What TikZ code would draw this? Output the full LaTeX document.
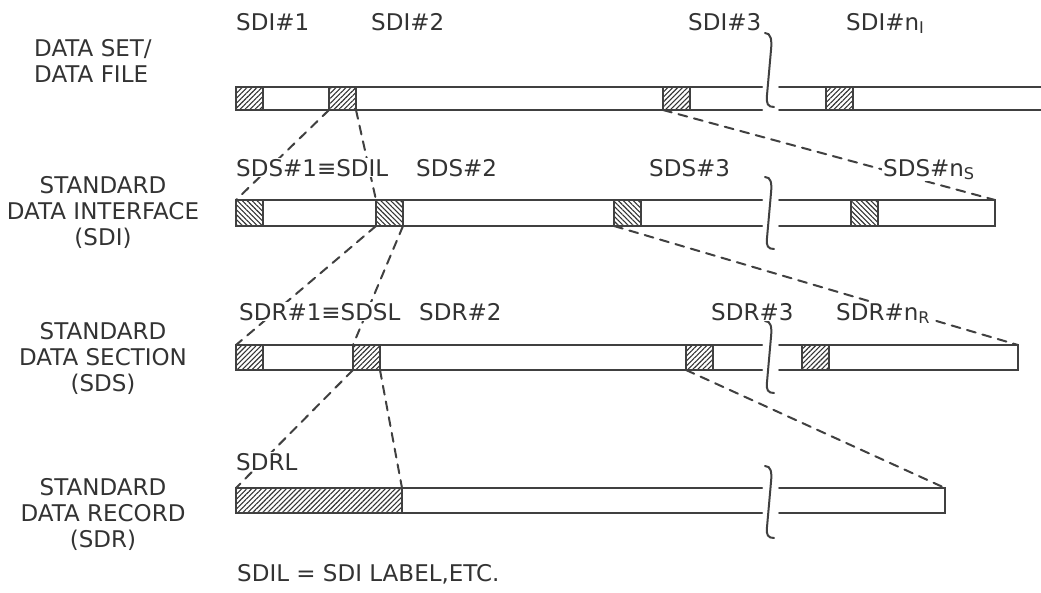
\documentclass[tikz,border=0pt]{standalone}
\usepackage{fontspec}
\setmainfont{DejaVu Sans}
\usetikzlibrary{patterns.meta}

\begin{document}
\begin{tikzpicture}[x=1pt, y=-1pt,
    bar/.style={draw=black!75, line width=2pt, line cap=round},
    hatch/.style={draw=black!75, line width=2pt, inner sep=0pt, outer sep=0pt,
        anchor=north west, minimum width=27pt, pattern color=black!80,
        pattern={Lines[angle=45, distance=3.5pt, line width=1.1pt]}},
    backhatch/.style={hatch, pattern={Lines[angle=-45, distance=3.5pt, line width=1.1pt]}},
    link/.style={draw=black!75, line width=2pt, line cap=round, dash pattern=on 9pt off 7pt},
    txt/.style={font=\fontsize{23}{26}\selectfont, text=black!80, inner sep=1pt},
    tag/.style={txt, fill=white, anchor=base west}]
    \useasboundingbox (0,0) rectangle (1041,592);

    % Draw bars
    \draw[bar] (762,87) -| (236,110) -- (762,110);
    \draw[bar] (1041,87) -- (779,87) (779,110) -- (1041,110);
    \draw[bar] (762,200) -| (236,226) -- (762,226);
    \draw[bar] (779,200) -| (995,226) -- (779,226);
    \draw[bar] (762,345) -| (236,370) -- (762,370);
    \draw[bar] (779,345) -| (1018,370) -- (779,370);
    \draw[bar] (762,488) -| (236,513) -- (762,513);
    \draw[bar] (779,488) -| (945,513) -- (779,513);

    % Breaks
    \draw[bar, shift={(768,70)}] (-3,-37) .. controls (3,-37) and (4,-30) .. (3,-20) -- (-1,25) .. controls (-2,34) and (0,37) .. (6,37);
    \draw[bar, shift={(768,213)}] (-3,-36) .. controls (3,-36) and (4,-30) .. (3,-20) -- (-1,25) .. controls (-2,33) and (0,36) .. (6,36);
    \draw[bar, shift={(768,357)}] (-3,-36) .. controls (3,-36) and (4,-30) .. (3,-20) -- (-1,25) .. controls (-2,33) and (0,36) .. (6,36);
    \draw[bar, shift={(768,502)}] (-3,-36) .. controls (3,-36) and (4,-30) .. (3,-20) -- (-1,25) .. controls (-2,33) and (0,36) .. (6,36);

    % Draw nodes
    \node[hatch, minimum height=23pt] (a1) at (236,87) {};
    \node[hatch, minimum height=23pt] (a2) at (329,87) {};
    \node[hatch, minimum height=23pt] (a3) at (663,87) {};
    \node[hatch, minimum height=23pt] (a4) at (826,87) {};
    \node[backhatch, minimum height=26pt] (b1) at (236,200) {};
    \node[backhatch, minimum height=26pt] (b2) at (376,200) {};
    \node[backhatch, minimum height=26pt] (b3) at (614,200) {};
    \node[backhatch, minimum height=26pt] (b4) at (851,200) {};
    \node[hatch, minimum height=25pt] (c1) at (236,345) {};
    \node[hatch, minimum height=25pt] (c2) at (353,345) {};
    \node[hatch, minimum height=25pt] (c3) at (686,345) {};
    \node[hatch, minimum height=25pt] (c4) at (802,345) {};
    \node[hatch, minimum height=25pt, minimum width=166pt] (d1) at (236,488) {};
    \coordinate (e2) at (995,200);
    \coordinate (e3) at (1018,345);
    \coordinate (e4) at (945,488);

    % Draw connections
    \draw[link] (a2.south west) -- (b1.north west);
    \draw[link] (a2.south east) -- (b2.north west);
    \draw[link] (a3.south west) -- (e2);
    \draw[link] (b2.south west) -- (c1.north west);
    \draw[link] (b2.south east) -- (c2.north west);
    \draw[link] (b3.south west) -- (e3);
    \draw[link] (c2.south west) -- (d1.north west);
    \draw[link] (c2.south east) -- (d1.north east);
    \draw[link] (c3.south west) -- (e4);

    % Labels
    \node[tag] (t11) at (235,30) {SDI\#1};
    \node[tag] (t12) at (370,30) {SDI\#2};
    \node[tag] (t13) at (687,30) {SDI\#3};
    \node[tag] (t14) at (845,30) {SDI\#n\textsubscript{I}};
    \node[tag] (t21) at (235,176) {SDS\#1≡SDIL};
    \node[tag] (t22) at (415,176) {SDS\#2};
    \node[tag] (t23) at (648,176) {SDS\#3};
    \node[tag] (t24) at (882,176) {SDS\#n\textsubscript{S}};
    \node[tag] (t31) at (238,320) {SDR\#1≡SDSL};
    \node[tag] (t32) at (418,320) {SDR\#2};
    \node[tag] (t33) at (710,320) {SDR\#3};
    \node[tag] (t34) at (835,320) {SDR\#n\textsubscript{R}};
    \node[tag] (t41) at (235,470) {SDRL};
    \node[txt, anchor=base west] (note) at (236,581) {SDIL = SDI LABEL,ETC.};

    \node[txt, align=left, anchor=west] (set) at (33,61) {DATA SET/\\DATA FILE};
    \node[txt, align=center] (sdi) at (103,212) {STANDARD\\DATA INTERFACE\\(SDI)};
    \node[txt, align=center] (sds) at (103,358) {STANDARD\\DATA SECTION\\(SDS)};
    \node[txt, align=center] (sdr) at (103,514) {STANDARD\\DATA RECORD\\(SDR)};
\end{tikzpicture}
\end{document}
